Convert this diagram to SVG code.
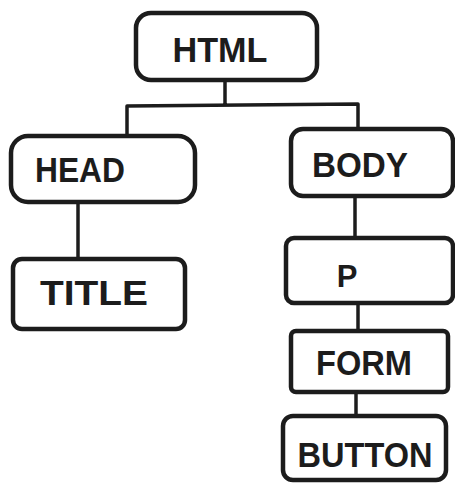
<svg xmlns="http://www.w3.org/2000/svg" width="455" height="483" viewBox="0 0 455 483">
<style>
.box{fill:#fff;stroke:#1c1c1c;stroke-width:4.5;stroke-linejoin:round}
.lbl{font-family:"Liberation Sans",Arial,sans-serif;font-weight:bold;font-size:35px;fill:#1c1c1c;text-anchor:middle}
.conn{fill:none;stroke:#1c1c1c;stroke-width:3.5;stroke-linejoin:round;stroke-linecap:round}
</style>
<rect width="455" height="483" fill="#fff"/>
<g id="connectors">
<path class="conn" d="M225 80 L225 105 M127 106 L358 104 M127 106 L127 135 M358 104 L358 128"/>
<path class="conn" d="M78 203 L78 259"/>
<path class="conn" d="M355 197 L355 237"/>
<path class="conn" d="M358 303 L358 330"/>
<path class="conn" d="M356 392 L356 415"/>
</g>
<g id="node-html">
<rect class="box" x="136" y="13" width="181" height="67" rx="15"/>
<text class="lbl" x="220" y="62" textLength="95" lengthAdjust="spacingAndGlyphs">HTML</text>
</g>
<g id="node-head">
<rect class="box" x="11" y="136" width="184" height="66" rx="17"/>
<text class="lbl" x="80" y="182" textLength="90" lengthAdjust="spacingAndGlyphs">HEAD</text>
</g>
<g id="node-body">
<rect class="box" x="291" y="129" width="162" height="67" rx="12"/>
<text class="lbl" x="360" y="177" textLength="96" lengthAdjust="spacingAndGlyphs">BODY</text>
</g>
<g id="node-title">
<rect class="box" x="13" y="259" width="172" height="70" rx="9"/>
<text class="lbl" x="94" y="305" textLength="108" lengthAdjust="spacingAndGlyphs">TITLE</text>
</g>
<g id="node-p">
<rect class="box" x="286" y="238" width="167" height="65" rx="8"/>
<text class="lbl" x="347" y="287" font-size="31" style="font-size:31px">P</text>
</g>
<g id="node-form">
<rect class="box" x="291" y="331" width="157" height="61" rx="5"/>
<text class="lbl" x="364" y="375" textLength="96" lengthAdjust="spacingAndGlyphs">FORM</text>
</g>
<g id="node-button">
<rect class="box" x="283" y="416" width="163" height="64" rx="10"/>
<text class="lbl" x="365" y="467" textLength="135" lengthAdjust="spacingAndGlyphs">BUTTON</text>
</g>
</svg>
